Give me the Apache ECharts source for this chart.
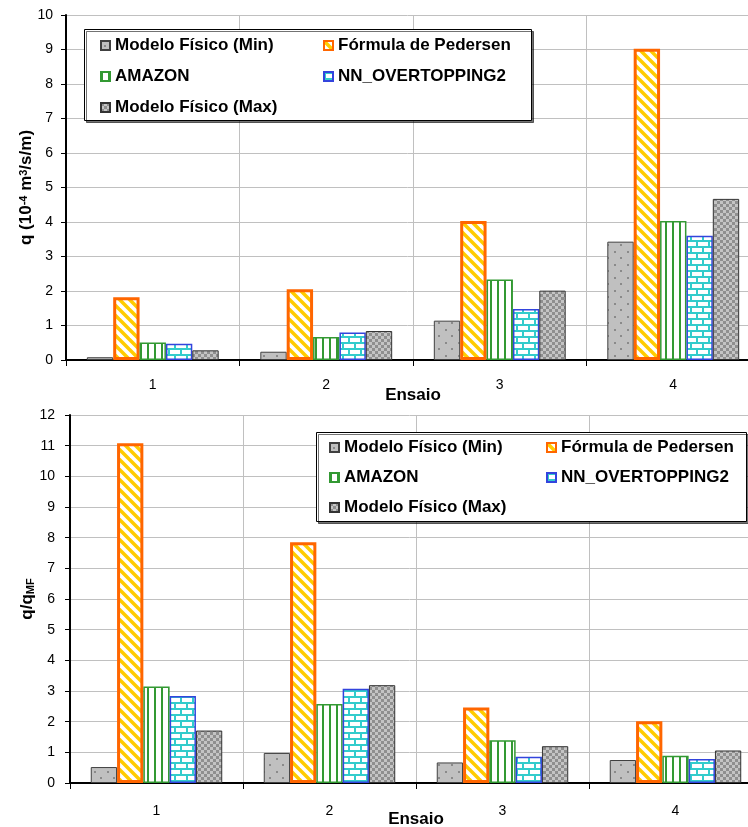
<!DOCTYPE html>
<html>
<head>
<meta charset="utf-8">
<script src="https://cdn.jsdelivr.net/npm/echarts@6/dist/echarts.min.js"></script>
<style>
  html, body { margin: 0; padding: 0; background: #fff; }
  #chart { width: 748px; height: 827px; }
</style>
</head>
<body>
<div id="chart"></div>
<script>
// data
const categories = ['1', '2', '3', '4'];
const seriesNames = ['Modelo Físico (Min)', 'Fórmula de Pedersen', 'AMAZON', 'NN_OVERTOPPING2', 'Modelo Físico (Max)'];

// top panel: q (10^-4 m3/s/m)
const qMin = [0.08, 0.24, 1.14, 3.43];
const qPedersen = [1.82, 2.05, 4.03, 9.02];
const qAmazon = [0.51, 0.67, 2.33, 4.03];
const qNN = [0.47, 0.80, 1.48, 3.60];
const qMax = [0.28, 0.84, 2.01, 4.67];

// bottom panel: q/qMF
const rMin = [0.52, 0.98, 0.67, 0.75];
const rPedersen = [11.08, 7.85, 2.46, 2.01];
const rAmazon = [3.15, 2.58, 1.39, 0.89];
const rNN = [2.84, 3.07, 0.86, 0.78];
const rMax = [1.71, 3.19, 1.20, 1.06];

const FONT = "'Liberation Sans', Arial, sans-serif";

const makePattern = (w, h, draw) => {
  const c = document.createElement('canvas');
  c.width = w; c.height = h;
  const ctx = c.getContext('2d');
  draw(ctx, w, h);
  return { image: c, repeat: 'repeat' };
};

// fills that imitate the excel hatch patterns
const fillMin = makePattern(13, 13, (ctx, w, h) => {
  ctx.fillStyle = '#c0c0c0'; ctx.fillRect(0, 0, w, h);
  ctx.fillStyle = '#8a8a8a';
  ctx.fillRect(3, 4, 2, 2);
  ctx.fillRect(9, 10, 2, 2);
});
const fillPedersen = makePattern(10, 10, (ctx, w, h) => {
  ctx.fillStyle = '#fff'; ctx.fillRect(0, 0, w, h);
  ctx.strokeStyle = '#ffcc00'; ctx.lineWidth = 3.5;
  for (let k = -1; k <= 1; k++) {
    ctx.beginPath();
    ctx.moveTo(k * w - 2, -2);
    ctx.lineTo(k * w + w + 2, h + 2);
    ctx.stroke();
  }
});
const fillAmazon = makePattern(7, 4, (ctx, w, h) => {
  ctx.fillStyle = '#fff'; ctx.fillRect(0, 0, w, h);
  ctx.fillStyle = '#339933'; ctx.fillRect(0, 0, 2, h);
});
const fillNN = makePattern(12, 12, (ctx, w, h) => {
  ctx.fillStyle = '#fff'; ctx.fillRect(0, 0, w, h);
  ctx.fillStyle = '#33cccc';
  ctx.fillRect(0, 0, w, 2);
  ctx.fillRect(0, 6, w, 2);
  ctx.fillRect(0, 2, 2, 4);
  ctx.fillRect(6, 8, 2, 4);
});
const fillMax = makePattern(6, 6, (ctx, w, h) => {
  ctx.fillStyle = '#c4c4c4'; ctx.fillRect(0, 0, w, h);
  ctx.fillStyle = '#8f8f8f';
  ctx.fillRect(0, 0, 3, 3);
  ctx.fillRect(3, 3, 3, 3);
});

const styles = [
  { color: fillMin, borderColor: '#404040', borderWidth: 1 },
  { color: fillPedersen, borderColor: '#ff6600', borderWidth: 3 },
  { color: fillAmazon, borderColor: '#339933', borderWidth: 1.5 },
  { color: fillNN, borderColor: '#3344dd', borderWidth: 1.5 },
  { color: fillMax, borderColor: '#333333', borderWidth: 1 },
];

const topData = [qMin, qPedersen, qAmazon, qNN, qMax];
const bottomData = [rMin, rPedersen, rAmazon, rNN, rMax];

const buildSeries = (dataSets, axisIndex) => dataSets.map((vals, i) => ({
  name: seriesNames[i],
  type: 'bar',
  xAxisIndex: axisIndex,
  yAxisIndex: axisIndex,
  barGap: '0%',
  barCategoryGap: '24%',
  itemStyle: styles[i],
  emphasis: { disabled: true },
  data: vals,
}));

// one legend per item, laid out in 2 columns like the excel box
const buildLegends = (col1, col2, rows) => {
  const slots = [[col1, rows[0]], [col2, rows[0]], [col1, rows[1]], [col2, rows[1]], [col1, rows[2]]];
  return slots.map(([x, y], i) => ({
    data: [seriesNames[i]],
    left: x,
    top: y - 9,
    padding: 0,
    itemWidth: 9,
    itemHeight: 9,
    icon: 'rect',
    selectedMode: false,
    textStyle: { fontFamily: FONT, fontSize: 17, fontWeight: 'bold', color: '#000' },
  }));
};

const xAxisBase = (gridIndex, labelMargin, nameGap) => ({
  type: 'category',
  gridIndex,
  data: categories,
  name: 'Ensaio',
  nameLocation: 'middle',
  nameGap,
  nameMoveOverlap: false,
  nameTextStyle: { fontFamily: FONT, fontSize: 17, fontWeight: 'bold', color: '#000' },
  axisLine: { lineStyle: { color: '#000', width: 2 } },
  axisTick: { show: true, length: 6, lineStyle: { color: '#000' } },
  axisLabel: { fontFamily: FONT, fontSize: 14, color: '#000', margin: labelMargin },
  splitLine: { show: true, lineStyle: { color: '#c0c0c0', width: 1 } },
});

const yAxisBase = (gridIndex, max, labelMargin) => ({
  type: 'value',
  gridIndex,
  min: 0,
  max,
  interval: 1,
  nameLocation: 'middle',
  nameRotate: 90,
  nameMoveOverlap: false,
  axisLine: { show: true, lineStyle: { color: '#000', width: 2 } },
  axisTick: { show: true, length: 5, lineStyle: { color: '#000' } },
  axisLabel: { fontFamily: FONT, fontSize: 14, color: '#000', margin: labelMargin },
  splitLine: { show: true, lineStyle: { color: '#c0c0c0', width: 1 } },
});

const yTop = yAxisBase(0, 10, 13);
yTop.name = 'q (10{sup|-4} m{sup|3}/s/m)';
yTop.nameGap = 31;
yTop.nameTextStyle = {
  fontFamily: FONT, fontSize: 17, fontWeight: 'bold', color: '#000',
  rich: {
    sup: { fontFamily: FONT, fontSize: 11, fontWeight: 'bold', color: '#000', verticalAlign: 'top' },
  },
};

const yBottom = yAxisBase(1, 12, 15);
yBottom.name = 'q/q{sub|MF}';
yBottom.nameGap = 34;
yBottom.nameTextStyle = {
  fontFamily: FONT, fontSize: 17, fontWeight: 'bold', color: '#000',
  rich: {
    sub: { fontFamily: FONT, fontSize: 11, fontWeight: 'bold', color: '#000', verticalAlign: 'bottom', padding: [6, 0, 0, 0] },
  },
};

const legendBox = (x, y, w, h) => ({
  type: 'rect',
  z: 1,
  shape: { x, y, width: w, height: h },
  style: { fill: '#fff', stroke: '#000', lineWidth: 1, shadowBlur: 0, shadowOffsetX: 2, shadowOffsetY: 2, shadowColor: 'rgba(0,0,0,0.55)' },
});

const chart = echarts.init(document.getElementById('chart'));
chart.setOption({
  animation: false,
  backgroundColor: '#fff',
  textStyle: { fontFamily: FONT },
  grid: [
    { left: 66, top: 15, width: 694, height: 345, containLabel: false, outerBoundsMode: 'none' },
    { left: 70, top: 415, width: 692, height: 368, containLabel: false, outerBoundsMode: 'none' },
  ],
  xAxis: [xAxisBase(0, 18, 27), xAxisBase(1, 21, 28)],
  yAxis: [yTop, yBottom],
  legend: [
    ...buildLegends(100, 323, [46, 77, 108]),
    ...buildLegends(329, 546, [448, 478, 508]),
  ],
  graphic: [
    legendBox(84.5, 29.5, 447, 91),
    legendBox(316.5, 432.5, 430, 89),
  ],
  series: [...buildSeries(topData, 0), ...buildSeries(bottomData, 1)],
});
</script>
</body>
</html>
